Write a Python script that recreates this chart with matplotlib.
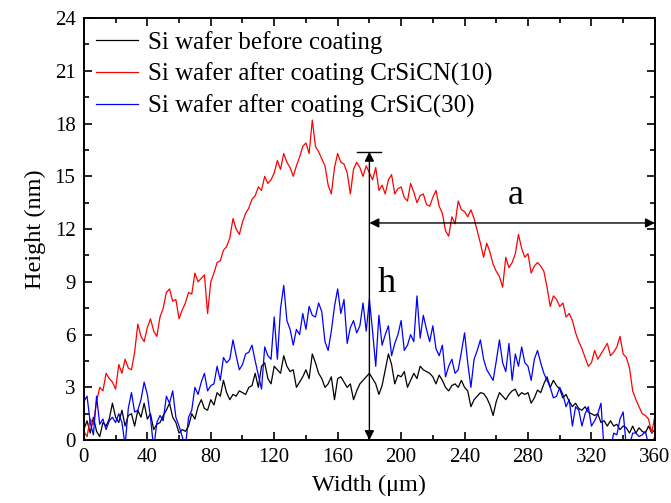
import numpy as np
import matplotlib
matplotlib.use("Agg")
import matplotlib.pyplot as plt
from matplotlib.ticker import MultipleLocator

plt.rcParams['font.family'] = ['Liberation Serif', 'DejaVu Serif']

# width positions, every 2 um
width = np.arange(0, 361, 2)

# Si wafer before coating (nm)
before = [
    0.6, 1.1, 0.4, 1.3, 0.5, 0.2, 1.0, 0.8, 1.2, 2.1,   # 0-18
    1.3, 1.0, 1.7, 0.8, 1.4, 1.5, 0.8, 1.7, 1.3, 2.1,   # 20-38
    1.2, 1.5, 0.6, 0.9, 1.0, 1.4, 1.7, 2.1, 1.3, 1.0,   # 40-58
    0.4, 0.6, 0.5, 0.8, 1.5, 1.2, 1.9, 2.3, 1.8, 1.7,   # 60-78
    2.3, 2.0, 2.7, 2.5, 3.4, 2.7, 2.3, 2.6, 2.5, 2.8,   # 80-98
    2.7, 2.6, 3.0, 3.1, 3.8, 3.0, 4.2, 4.4, 3.5, 3.2,   # 100-118
    4.2, 4.0, 3.8, 4.8, 4.2, 3.9, 4.0, 3.0, 3.3, 3.6,   # 120-138
    4.0, 3.5, 4.9, 4.4, 3.8, 3.5, 3.0, 3.2, 3.6, 2.3,   # 140-158
    3.5, 3.6, 3.3, 3.0, 3.2, 2.3, 2.8, 3.2, 3.4, 3.6,   # 160-178
    3.8, 3.5, 3.2, 2.6, 3.1, 4.0, 4.9, 4.3, 3.2, 3.7,   # 180-198
    3.6, 3.9, 3.0, 3.4, 3.8, 3.5, 4.2, 4.0, 3.9, 3.8,   # 200-218
    3.6, 3.2, 3.7, 3.4, 3.0, 2.8, 3.1, 3.2, 3.0, 3.4,   # 220-238
    3.0, 2.8, 1.9, 2.3, 2.5, 2.7, 2.65, 2.4, 2.0, 1.4,  # 240-258
    2.2, 2.7, 2.5, 2.3, 2.6, 2.8, 2.9, 2.5, 2.7, 2.6,   # 260-278
    2.7, 2.1, 2.4, 2.85, 2.7, 3.2, 3.6, 3.0, 3.4, 3.1,  # 280-298
    2.9, 2.4, 2.6, 2.2, 1.9, 2.1, 1.8, 1.7, 1.9, 1.6,   # 300-318
    1.5, 1.4, 1.5, 1.0, 1.1, 0.8, 1.1, 0.8, 0.9, 0.6,   # 320-338
    0.8, 0.7, 0.4, 0.8, 0.4, 0.7, 0.5, 0.4, 0.8, 0.4,   # 340-358
    0.6,
]

# Si wafer after coating CrSiCN(10)
crsicn = [
    0.5, 0.2, 1.2, 0.9, 2.2, 3.0, 2.8, 3.8, 3.5, 3.3,
    2.9, 4.3, 3.8, 4.6, 4.1, 4.0, 5.0, 6.6, 5.9, 5.6,
    6.4, 6.9, 6.2, 5.9, 7.0, 7.5, 8.4, 8.6, 7.9, 8.0,
    6.9, 7.4, 7.8, 8.4, 8.3, 9.5, 9.0, 9.2, 9.4, 7.2,
    9.0, 9.5, 10.1, 10.2, 10.8, 11.0, 11.5, 12.6, 12.0, 11.7,
    12.4, 12.9, 13.2, 13.7, 13.9, 14.4, 14.2, 15.0, 14.6, 14.8,
    15.2, 15.9, 15.4, 16.3, 15.8, 15.5, 15.0, 15.6, 16.1, 16.7,
    16.9, 16.3, 18.2, 16.7, 16.4, 16.0, 15.6, 14.5, 14.0, 15.5,
    16.3, 15.8, 15.7, 15.2, 14.0, 15.4, 15.8, 15.5, 15.0, 15.6,
    15.2, 14.8, 15.5, 14.2, 14.5, 14.0, 14.8, 15.1, 14.0, 14.3,
    14.4, 13.8, 13.6, 14.6, 14.1, 13.5, 13.9, 14.0, 13.4, 13.3,
    13.8, 14.2, 13.3, 12.9, 11.9, 11.6, 12.7, 12.3, 13.6, 13.1,
    13.0, 12.7, 13.1, 12.6, 11.9, 11.2, 10.4, 11.2, 10.7, 10.0,
    9.6, 9.3, 8.7, 10.4, 9.8, 10.1, 10.6, 11.7, 10.9, 10.4,
    10.6, 9.5, 9.9, 10.1, 9.9, 9.6, 8.7, 7.6, 8.2, 8.0,
    7.6, 7.8, 7.0, 7.2, 6.8, 6.1, 5.6, 5.2, 4.7, 4.2,
    4.4, 5.1, 4.6, 4.9, 5.2, 5.5, 4.8, 5.0, 5.3, 5.9,
    4.9, 4.7, 4.1, 2.8, 2.3, 1.9, 1.5, 1.4, 1.2, 0.4,
    1.4,
]

# Si wafer after coating CrSiC(30)
crsic = [
    2.2, 2.5, 1.0, 0.3, 2.5, 0.9, 1.2, 0.6, 1.1, 1.3,
    1.0, 1.5, 1.0, -0.3, 1.8, 2.7, 1.6, 1.7, 2.3, 3.3,
    2.6, 1.3, -0.5, 1.0, 1.4, 1.1, 2.5, 2.1, 2.8, 1.3,
    0.8, 0.2, -0.4, 1.3, 1.7, 3.0, 2.6, 3.3, 3.8, 2.8,
    3.1, 3.2, 4.2, 3.4, 4.7, 4.4, 4.6, 5.7, 4.8, 4.0,
    4.3, 4.9, 5.0, 5.4, 4.5, 3.7, 2.9, 5.3, 4.8, 4.6,
    7.0, 4.6, 7.5, 8.8, 6.8, 6.3, 5.4, 6.3, 6.0, 7.2,
    6.3, 7.6, 7.1, 7.0, 7.8, 7.3, 5.6, 5.1, 6.2, 7.6,
    8.6, 7.2, 8.0, 5.5, 6.4, 6.8, 6.1, 6.5, 7.8, 6.2,
    8.0, 6.2, 4.2, 7.1, 5.4, 6.0, 6.5, 4.8, 5.5, 6.0,
    6.8, 5.1, 5.4, 6.0, 5.6, 8.2, 5.8, 7.1, 6.3, 5.6,
    6.5, 5.2, 4.8, 5.4, 3.6, 4.2, 4.6, 3.8, 4.0, 5.0,
    6.1, 4.4, 3.0, 4.6, 5.1, 5.7, 4.6, 4.0, 3.7, 3.4,
    4.5, 5.7, 4.4, 3.9, 5.5, 3.4, 4.9, 4.2, 5.3, 4.4,
    4.2, 3.4, 4.6, 5.1, 4.4, 3.8, 3.4, 3.0, 2.4, 2.5,
    3.0, 2.6, 1.9, 2.3, 0.8, 1.9, 1.7, 0.8, 1.5, 1.9,
    0.8, 1.1, 1.5, 2.1, -0.6, -0.5, -0.6, 0.4, 0.3, 1.2,
    1.6, -0.4, -0.3, 0.4, 0.4, 0.2, 0.3, 0.5, -0.3, -0.2,
    0.2,
]

fig = plt.figure(figsize=(6.71, 5.03), dpi=100)
ax = fig.add_axes([0.125, 0.125, 0.851, 0.839])

ax.plot(width, before, color='black', lw=0.9, label='Si wafer before coating')
ax.plot(width, crsicn, color='red', lw=0.9, label='Si wafer after coating CrSiCN(10)')
ax.plot(width, crsic, color='blue', lw=0.9, label='Si wafer after coating CrSiC(30)')

ax.set_xlim(0, 360)
ax.set_ylim(0, 24)
ax.xaxis.set_major_locator(MultipleLocator(40))
ax.xaxis.set_minor_locator(MultipleLocator(20))
ax.yaxis.set_major_locator(MultipleLocator(3))
ax.yaxis.set_minor_locator(MultipleLocator(1.5))
ax.tick_params(which='both', direction='in', top=True, right=True,
               labeltop=False, labelright=False, width=1.2)
ax.tick_params(which='major', length=6, labelsize=15, pad=6)
ax.tick_params(which='minor', length=3.5)
for s in ax.spines.values():
    s.set_linewidth(1.4)

ax.set_xlabel('Width (μm)', fontsize=17.5, labelpad=5)
ax.set_ylabel('Height (nm)', fontsize=17.5, labelpad=6)

leg = ax.legend(loc='upper left', frameon=False, fontsize=18,
                handlelength=1.65, handletextpad=0.4, labelspacing=0.36,
                borderaxespad=0.1, borderpad=0.4)

# h and a markers
arrow = dict(arrowstyle='<|-|>', color='black', lw=1.0,
             mutation_scale=14, shrinkA=0, shrinkB=0)
ax.annotate('', xy=(180, 0), xytext=(180, 16.4), arrowprops=arrow)
ax.plot([172, 187.5], [16.4, 16.4], color='black', lw=1.0)
ax.annotate('', xy=(180, 12.35), xytext=(360, 12.35), arrowprops=arrow)
ax.text(191, 8.9, 'h', fontsize=26, ha='center', va='center')
ax.text(272, 13.9, 'a', fontsize=26, ha='center', va='center')

fig.savefig('out.png', dpi=100)
